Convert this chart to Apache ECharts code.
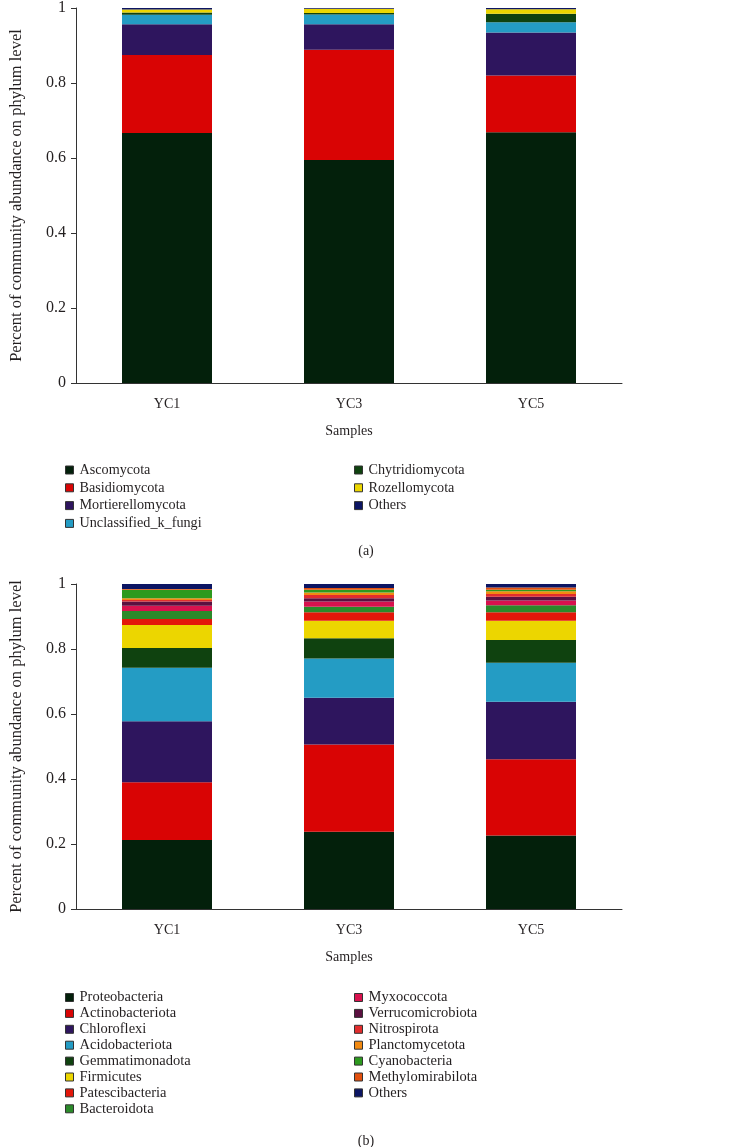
<!DOCTYPE html>
<html>
<head>
<meta charset="utf-8">
<script src="https://cdn.jsdelivr.net/npm/echarts@6/dist/echarts.min.js"></script>
<style>
body{
  margin:0;
  background-color:#ffffff;
}
#main{
  width:732px;
  height:1147px;
}
</style>
</head>
<body>
<div id="main"></div>
<script>
// samples on the x axis
var samples = ['YC1', 'YC3', 'YC5'];
var yTicks = [0, 0.2, 0.4, 0.6, 0.8, 1];

// (a) fungi, phylum level
var fungiNames = ['Ascomycota', 'Basidiomycota', 'Mortierellomycota', 'Unclassified_k_fungi',
  'Chytridiomycota', 'Rozellomycota', 'Others'];
var ascomycota = [0.667, 0.595, 0.669];
var basidiomycota = [0.208, 0.294, 0.151];
var mortierellomycota = [0.082, 0.068, 0.115];
var unclassifiedFungi = [0.025, 0.026, 0.027];
var chytridiomycota = [0.006, 0.004, 0.023];
var rozellomycota = [0.008, 0.011, 0.012];
var fungiOthers = [0.004, 0.002, 0.003];

// (b) bacteria, phylum level
var bacteriaNames = ['Proteobacteria', 'Actinobacteriota', 'Chloroflexi', 'Acidobacteriota',
  'Gemmatimonadota', 'Firmicutes', 'Patescibacteria', 'Bacteroidota', 'Myxococcota',
  'Verrucomicrobiota', 'Nitrospirota', 'Planctomycetota', 'Cyanobacteria',
  'Methylomirabilota', 'Others'];
var proteobacteria = [0.212, 0.238, 0.226];
var actinobacteriota = [0.178, 0.268, 0.235];
var chloroflexi = [0.188, 0.144, 0.177];
var acidobacteriota = [0.164, 0.121, 0.120];
var gemmatimonadota = [0.061, 0.062, 0.070];
var firmicutes = [0.071, 0.054, 0.059];
var patescibacteria = [0.018, 0.026, 0.026];
var bacteroidota = [0.025, 0.017, 0.022];
var myxococcota = [0.016, 0.016, 0.014];
var verrucomicrobiota = [0.013, 0.010, 0.012];
var nitrospirota = [0.005, 0.010, 0.008];
var planctomycetota = [0.005, 0.008, 0.009];
var cyanobacteria = [0.026, 0.008, 0.004];
var methylomirabilota = [0.003, 0.006, 0.007];
var bacteriaOthers = [0.015, 0.012, 0.011];

var fungiData = [ascomycota, basidiomycota, mortierellomycota, unclassifiedFungi,
  chytridiomycota, rozellomycota, fungiOthers];
var bacteriaData = [proteobacteria, actinobacteriota, chloroflexi, acidobacteriota,
  gemmatimonadota, firmicutes, patescibacteria, bacteroidota, myxococcota,
  verrucomicrobiota, nitrospirota, planctomycetota, cyanobacteria,
  methylomirabilota, bacteriaOthers];

var fungiColors = ['#03200b', '#d90404', '#2e155e', '#249cc4', '#0f420f', '#ecd600', '#0c1563'];
var bacteriaColors = ['#03200b', '#d90404', '#2e155e', '#249cc4', '#0f420f', '#ecd600',
  '#e3170a', '#2b8a2a', '#d8124e', '#5b1040', '#e22d2d', '#f28a12', '#2d9a1e',
  '#e2500e', '#0c1563'];

var font = '"Liberation Serif", "DejaVu Serif", serif';
var axisColor = '#333';
var textColor = '#231f20';

function xAxisFor(i) {
  return {
    type: 'category',
    gridIndex: i,
    data: samples,
    name: 'Samples',
    nameLocation: 'middle',
    nameGap: 41,
    nameTextStyle: {color: textColor, fontSize: 14, fontFamily: font},
    axisLine: {lineStyle: {color: axisColor, width: 1}},
    axisTick: {alignWithLabel: true, length: 5, lineStyle: {color: axisColor}},
    axisLabel: {color: textColor, fontSize: 14, fontFamily: font, margin: 14}
  };
}

function yAxisFor(i) {
  return {
    type: 'value',
    gridIndex: i,
    min: 0,
    max: 1,
    interval: 0.2,
    name: 'Percent of community abundance on phylum level',
    nameLocation: 'middle',
    nameGap: 51,
    nameTextStyle: {color: textColor, fontSize: 16.5, fontFamily: font},
    axisLine: {show: true, lineStyle: {color: axisColor, width: 1}},
    axisTick: {show: true, length: 5, lineStyle: {color: axisColor}},
    splitLine: {show: false},
    axisLabel: {
      color: textColor, fontSize: 16, fontFamily: font, margin: 10,
      formatter: function (v) {
        return yTicks.indexOf(v) >= 0 ? String(v) : '';
      }
    }
  };
}

function legendFor(names, left, top, gap, size) {
  return {
    orient: 'vertical',
    left: left,
    top: top,
    data: names,
    icon: 'rect',
    itemWidth: 8,
    itemHeight: 8,
    itemGap: gap,
    itemStyle: {borderColor: '#333', borderWidth: 1},
    selectedMode: false,
    padding: 0,
    textStyle: {color: textColor, fontSize: size, fontFamily: font, lineHeight: 13.5, padding: [0, 0, 0, 1]}
  };
}

var series = [];
fungiNames.forEach(function (n, k) {
  series.push({
    name: n,
    type: 'bar',
    stack: 'fungi',
    xAxisIndex: 0,
    yAxisIndex: 0,
    barWidth: 90,
    itemStyle: {color: fungiColors[k]},
    data: fungiData[k]
  });
});
bacteriaNames.forEach(function (n, k) {
  series.push({
    name: n,
    type: 'bar',
    stack: 'bacteria',
    xAxisIndex: 1,
    yAxisIndex: 1,
    barWidth: 90,
    itemStyle: {color: bacteriaColors[k]},
    data: bacteriaData[k]
  });
});

var chart = echarts.init(document.getElementById('main'));
chart.setOption({
  animation: false,
  backgroundColor: '#fff',
  title: [
    {text: '(a)', left: 'center', top: 539, textStyle: {color: textColor, fontSize: 14, fontWeight: 'normal', fontFamily: font}},
    {text: '(b)', left: 'center', top: 1129, textStyle: {color: textColor, fontSize: 14, fontWeight: 'normal', fontFamily: font}}
  ],
  grid: [
    {left: 67, top: 7, width: 555, height: 376},
    {left: 67, top: 584, width: 555, height: 325}
  ],
  legend: [
    legendFor(fungiNames.slice(0, 4), 65, 463, 3.8, 14.2),
    legendFor(fungiNames.slice(4), 354, 463, 3.8, 14.2),
    legendFor(bacteriaNames.slice(0, 8), 65, 990, 0.9, 14.5),
    legendFor(bacteriaNames.slice(8), 354, 990, 0.9, 14.5)
  ],
  xAxis: [xAxisFor(0), xAxisFor(1)],
  yAxis: [yAxisFor(0), yAxisFor(1)],
  series: series
});
</script>
</body>
</html>
